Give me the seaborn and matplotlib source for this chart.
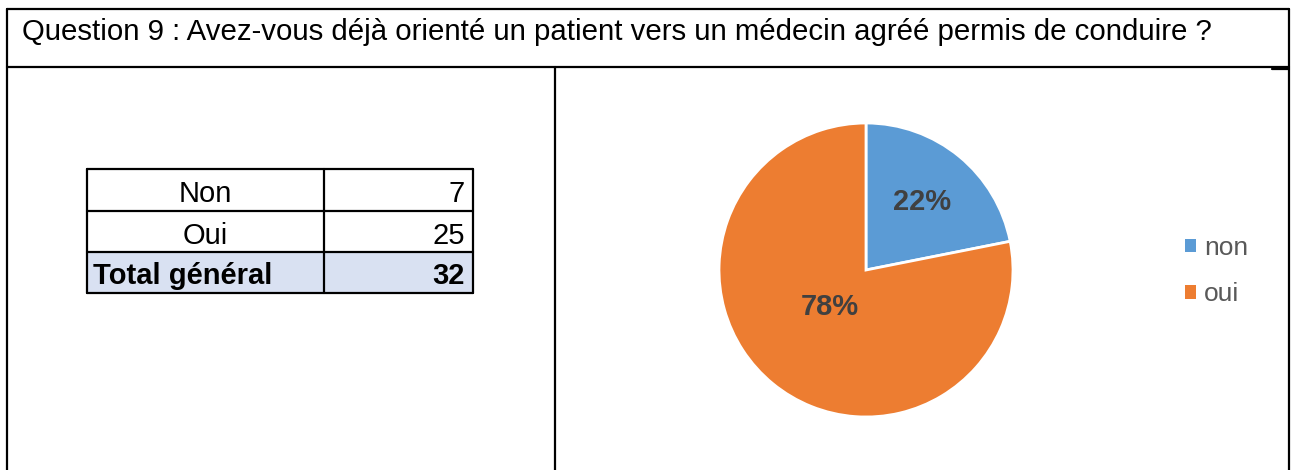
import numpy as np
import pandas as pd
import matplotlib
matplotlib.use("Agg")
import matplotlib.pyplot as plt
from matplotlib.patches import Rectangle, Patch
import seaborn as sns

# data
title = "Question 9 : Avez-vous déjà orienté un patient vers un médecin agréé permis de conduire ?"
table_labels = ["Non", "Oui", "Total général"]
table_counts = [7, 25, 32]
pie_labels = ["non", "oui"]
pie_counts = [7, 25]
pie_colors = ["#5B9BD5", "#ED7D31"]

sns.set_theme(style="white")
plt.rcParams['font.family'] = ['Liberation Sans', 'DejaVu Sans']

W, H = 1292, 470
fig = plt.figure(figsize=(W / 100, H / 100), dpi=100)

# background axes in pixel coordinates for the frame and the table
bg = fig.add_axes([0, 0, 1, 1])
bg.set_xlim(0, W)
bg.set_ylim(H, 0)
bg.axis("off")

lw = 1.6
# outer frame and cells
bg.plot([7, 1289], [9, 9], color="black", lw=lw)
bg.plot([7, 1289], [67, 67], color="black", lw=lw)
bg.plot([7, 7], [9, H], color="black", lw=lw)
bg.plot([1289, 1289], [9, H], color="black", lw=lw)
bg.plot([555, 555], [67, H], color="black", lw=lw)
bg.plot([1272, 1289], [69, 69], color="black", lw=lw)

bg.text(22, 32, title, fontsize=21.2, va="center", ha="left", color="black")

# table
x0, x1, x2 = 87, 324, 473
row_y = [169, 211, 252, 293]
bg.add_patch(Rectangle((x0, row_y[2]), x2 - x0, row_y[3] - row_y[2],
                       facecolor="#D9E1F2", edgecolor="none", zorder=0))
for y in row_y:
    bg.plot([x0, x2], [y, y], color="black", lw=lw)
for x in [x0, x1, x2]:
    bg.plot([x, x], [row_y[0], row_y[-1]], color="black", lw=lw)

for i, (lab, val) in enumerate(zip(table_labels, table_counts)):
    yc = (row_y[i] + row_y[i + 1]) / 2 + 4
    if i == len(table_labels) - 1:
        bg.text(x0 + 6, yc, lab, fontsize=21, fontweight="bold", ha="left", va="center", color="black")
        bg.text(x2 - 8, yc, str(val), fontsize=21, fontweight="bold", ha="right", va="center", color="black")
    else:
        bg.text((x0 + x1) / 2, yc, lab, fontsize=21, ha="center", va="center", color="black")
        bg.text(x2 - 8, yc, str(val), fontsize=21, ha="right", va="center", color="black")

# pie
cx, cy, r = 866, 270, 147
pax = fig.add_axes([(cx - r) / W, (H - cy - r) / H, 2 * r / W, 2 * r / H])
wedges, texts, autotexts = pax.pie(
    pie_counts, colors=pie_colors, startangle=90, counterclock=False,
    autopct=lambda p: f"{p:.0f}%", pctdistance=0.6,
    wedgeprops=dict(edgecolor="white", linewidth=2),
    textprops=dict(fontsize=21, fontweight="bold", color="#404040"))
dists = [0.6, 0.33]
for w, t, d in zip(wedges, autotexts, dists):
    ang = np.deg2rad((w.theta1 + w.theta2) / 2)
    t.set_position((d * np.cos(ang) - (0.04 if d < 0.5 else 0), d * np.sin(ang)))
pax.set_xlim(-1, 1)
pax.set_ylim(-1, 1)
pax.set_aspect("equal")

handles = [Patch(facecolor=c, edgecolor="none") for c in pie_colors]
leg = fig.legend(handles, pie_labels, loc="center left",
                 bbox_to_anchor=(1161 / W, (H - 271) / H), frameon=False,
                 fontsize=19, handlelength=0.42, handleheight=0.42,
                 handletextpad=0.3, labelspacing=0.85, labelcolor="#595959")

fig.savefig("out.png", dpi=100)
